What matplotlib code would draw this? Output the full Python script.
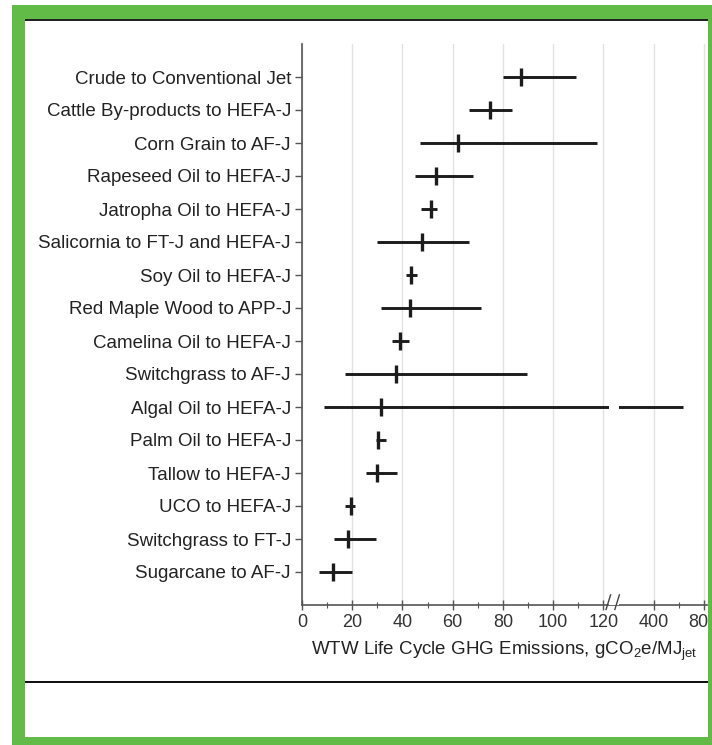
import matplotlib.pyplot as plt
from matplotlib.patches import Rectangle
import matplotlib as mpl
import numpy as np

mpl.rcParams["font.family"] = ["Liberation Sans", "DejaVu Sans"]
mpl.rcParams["mathtext.fontset"] = "custom"
mpl.rcParams["mathtext.rm"] = "Liberation Sans"

# pathways, top to bottom
pathways = [
    "Crude to Conventional Jet",
    "Cattle By-products to HEFA-J",
    "Corn Grain to AF-J",
    "Rapeseed Oil to HEFA-J",
    "Jatropha Oil to HEFA-J",
    "Salicornia to FT-J and HEFA-J",
    "Soy Oil to HEFA-J",
    "Red Maple Wood to APP-J",
    "Camelina Oil to HEFA-J",
    "Switchgrass to AF-J",
    "Algal Oil to HEFA-J",
    "Palm Oil to HEFA-J",
    "Tallow to HEFA-J",
    "UCO to HEFA-J",
    "Switchgrass to FT-J",
    "Sugarcane to AF-J",
]
# gCO2e/MJ: central value, low and high ends of range
central = [87.3, 74.9, 62.2, 53.4, 51.4, 47.8, 43.4, 43.0, 39.0, 37.5, 31.5, 30.3, 29.9, 19.5, 18.3, 12.4]
low = [80.0, 66.5, 47.0, 45.0, 47.4, 29.9, 41.4, 31.5, 35.9, 17.1, 8.8, 29.5, 25.5, 17.1, 12.7, 6.8]
high = [109.0, 83.7, 117.5, 68.0, 53.8, 66.5, 45.8, 71.3, 42.6, 89.6, 636.0, 33.5, 37.8, 21.1, 29.5, 19.9]

xticks = [0, 20, 40, 60, 80, 100, 120, 400, 800]
xminor = [10, 30, 50, 70, 90, 110, 600]

GREEN = "#63BB47"
INK = "#1c1c1c"
W, H = 712, 745

# broken x axis: linear to 124, squeeze 124-400, then 20 units per 400
B, P4 = 124.0, 140.0


def fwd(v):
    v = np.asarray(v, dtype=float)
    return np.where(v <= B, v,
                    np.where(v < 400, B + (v - B) * (P4 - B) / (400 - B),
                             P4 + (v - 400) / 20.0))


def inv(p):
    p = np.asarray(p, dtype=float)
    return np.where(p <= B, p,
                    np.where(p < P4, B + (p - B) * (400 - B) / (P4 - B),
                             400 + (p - P4) * 20.0))


def fig_rect(fig, x0, y0, x1, y1, color, z=5):
    """Rectangle given in image pixel coords (y from top)."""
    r = Rectangle((x0 / W, 1 - y1 / H), (x1 - x0) / W, (y1 - y0) / H,
                  transform=fig.transFigure, fc=color, ec="none", zorder=z)
    fig.patches.append(r)


fig = plt.figure(figsize=(W / 100, H / 100), dpi=100)
fig.patch.set_facecolor("white")
ax = fig.add_axes([302 / W, 140 / H, 405 / W, 561 / H])
ax.set_xscale("function", functions=(fwd, inv))

y = np.arange(len(pathways))
ax.hlines(y, low, high, color=INK, lw=2.1, zorder=2)
ax.plot(central, y, ls="none", marker="|", ms=13, mew=2.4, color=INK, zorder=2)

ax.set_xlim(0, 826)
ax.set_ylim(len(pathways), -1)
ax.set_yticks(y)
ax.set_yticklabels(pathways, fontsize=13.5, color="#222")
ax.set_xticks(xticks)
ax.set_xticklabels([str(t) for t in xticks], fontsize=13, color="#333")
ax.set_xticks(xminor, minor=True)
ax.tick_params(axis="y", direction="out", length=5, width=1, color="#555", pad=3)
ax.tick_params(axis="x", which="major", direction="inout", length=7, width=1,
               color="#555", pad=3)
ax.tick_params(axis="x", which="minor", direction="inout", length=4, width=0.8,
               color="#555")
ax.tick_params(axis="y", which="minor", left=False)
ax.grid(axis="x", which="major", color="#e2e2e2", lw=1.0)
ax.set_axisbelow(True)

for s in ("top", "right"):
    ax.spines[s].set_visible(False)
for s in ("left", "bottom"):
    ax.spines[s].set_color("#555")
    ax.spines[s].set_linewidth(1.2)

# axis break: gap plus // marks
ax.axvspan(122.3, inv(126.3), color="white", zorder=3, lw=0)
ax.add_patch(Rectangle((122.3, 0), inv(126.3) - 122.3, 0.012, fc="white", ec="none",
                       transform=ax.get_xaxis_transform(), clip_on=False, zorder=3))
tr = ax.get_xaxis_transform()
for xb in (122.0, inv(125.5)):
    xp = float(fwd(xb))
    ax.plot([inv(xp - 0.9), inv(xp + 0.9)], [-0.008, 0.018], color="#444", lw=1,
            transform=tr, clip_on=False, zorder=4)

ax.set_xlabel(r"WTW Life Cycle GHG Emissions, gCO$_{\mathrm{2}}$e/MJ$_{\mathrm{jet}}$",
              fontsize=13.5, color="#222")
ax.xaxis.set_label_coords(0.5, -0.062)

# green frame and rules
fig_rect(fig, 12, 5, 712, 19, GREEN)
fig_rect(fig, 12, 5, 25, 745, GREEN)
fig_rect(fig, 708, 5, 712, 745, GREEN)
fig_rect(fig, 12, 737, 712, 745, GREEN)
fig_rect(fig, 25, 19, 708, 21, "#222")
fig_rect(fig, 25, 681, 708, 683, "#111")

fig.savefig("out.png", dpi=100, facecolor="white")
